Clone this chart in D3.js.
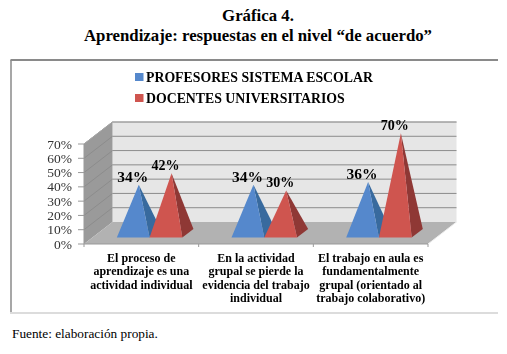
<!DOCTYPE html>
<html>
<head>
<meta charset="utf-8">
<script src="https://cdn.jsdelivr.net/npm/d3@7"></script>
<style>
  html, body { margin: 0; padding: 0; background: #fff; }
  svg { display: block; }
  text { font-family: "Liberation Serif", serif; }
  .title { font-size: 16.8px; font-weight: bold; fill: #000; text-anchor: middle; }
  .legend-label { font-size: 13.8px; font-weight: bold; fill: #000; }
  .tick-label { font-size: 13.5px; fill: #333; text-anchor: end; }
  .cat-label { font-size: 12px; font-weight: bold; fill: #000; text-anchor: middle; }
  .value-label { font-weight: bold; fill: #000; text-anchor: middle; }
</style>
</head>
<body>
<div id="chart"></div>
<script>
var titleLines = ["Gráfica 4.", "Aprendizaje: respuestas en el nivel “de acuerdo”"];
var source = "Fuente: elaboración propia.";

var series = ["PROFESORES SISTEMA ESCOLAR", "DOCENTES UNIVERSITARIOS"];
var categories = [
  ["El proceso de", "aprendizaje es una", "actividad individual"],
  ["En la actividad", "grupal se pierde la", "evidencia del trabajo", "individual"],
  ["El trabajo en aula es", "fundamentalmente", "grupal (orientado al", "trabajo colaborativo)"]
];
var profesores = [34, 34, 36];
var docentes = [42, 30, 70];
var yTicks = [0, 10, 20, 30, 40, 50, 60, 70];

var width = 507, height = 354;
var plot = {left: 84, right: 428, top: 144, bottom: 244};
// how far the back of the 3d box is shifted from the front
var depth = {x: 28.5, y: 22};
// where the pyramids stand on the floor (0 = front, 1 = back)
var baseFront = 0.29, baseBack = 0.68;

var colors = [
  {front: "#5488cc", side: "#376a9e"},
  {front: "#cf5450", side: "#8f3735"}
];
var labelSizes = [15.5, 14];

var svg = d3.select("#chart").append("svg")
  .attr("width", width)
  .attr("height", height);

// the source picture is a soft scan
var soft = svg.append("defs").append("filter").attr("id", "soft");
soft.append("feGaussianBlur").attr("stdDeviation", 0.45);
var root = svg.append("g").attr("filter", "url(#soft)");
root.append("rect").attr("width", width).attr("height", height).attr("fill", "#fff");

var xScale = d3.scaleBand()
  .domain(d3.range(categories.length))
  .range([plot.left, plot.right]);

var inner = d3.scaleBand()
  .domain(d3.range(series.length))
  .range([0, 65.5]);

var yScale = d3.scaleLinear()
  .domain([0, 70])
  .range([plot.bottom, plot.top]);

// x and y in chart units, z is the depth in the box
function project(x, value, z) {
  return [x + z * depth.x, yScale(value) - z * depth.y];
}

function poly(points) {
  return points.map(p => p.join(",")).join(" ");
}

titleLines.forEach(function(t, i) {
  svg.append("text").attr("class", "title")
    .attr("x", 258).attr("y", 21 + i * 19.6)
    .text(t);
});

// frame around the chart
root.append("line").attr("x1", 10.5).attr("x2", 498).attr("y1", 60).attr("y2", 60)
  .attr("stroke", "#8a8a8a").attr("stroke-width", 2);
root.append("line").attr("x1", 11).attr("x2", 11).attr("y1", 60).attr("y2", 313)
  .attr("stroke", "#8a8a8a").attr("stroke-width", 1.5);
root.append("line").attr("x1", 10).attr("x2", 498).attr("y1", 313).attr("y2", 313)
  .attr("stroke", "#dcdcdc").attr("stroke-width", 2);

// legend
series.forEach(function(s, i) {
  var y = 77 + i * 21;
  root.append("rect")
    .attr("x", 135).attr("y", y - 4).attr("width", 8.5).attr("height", 8)
    .attr("fill", colors[i].front);
  root.append("text").attr("class", "legend-label")
    .attr("x", 146).attr("y", y + 4.5)
    .text(s);
});

// box: back wall, side wall, floor
var x0 = plot.left, x1 = plot.right;
root.append("polygon")
  .attr("points", poly([project(x0, 0, 1), project(x1, 0, 1), project(x1, 70, 1), project(x0, 70, 1)]))
  .attr("fill", "#e6e6e6");
root.append("polygon")
  .attr("points", poly([project(x0, 0, 0), project(x0, 0, 1), project(x0, 70, 1), project(x0, 70, 0)]))
  .attr("fill", "#9a9a9a");
root.append("polygon")
  .attr("points", poly([project(x0, 0, 0), project(x1, 0, 0), project(x1, 0, 1), project(x0, 0, 1)]))
  .attr("fill", "#b2b2b2");

// gridlines go along the side wall and then the back wall
root.append("g").selectAll("polyline")
  .data(yTicks.filter(d => d > 0))
  .enter().append("polyline")
  .attr("points", d => poly([project(x0, d, 0), project(x0, d, 1), project(x1, d, 1)]))
  .attr("fill", "none")
  .attr("stroke", "#8c8c8c")
  .attr("stroke-width", 1);
// top edge of the box
root.append("polyline")
  .attr("points", poly([project(x0, 70, 0), project(x0, 70, 1), project(x1, 70, 1)]))
  .attr("fill", "none").attr("stroke", "#a8a8a8");

// axes
var axisColor = "#999";
root.append("line").attr("x1", x0).attr("x2", x1).attr("y1", plot.bottom).attr("y2", plot.bottom)
  .attr("stroke", axisColor);
root.append("line").attr("x1", x0).attr("x2", x0).attr("y1", plot.top).attr("y2", plot.bottom)
  .attr("stroke", axisColor);
root.append("polyline")
  .attr("points", poly([project(x1, 0, 0), project(x1, 0, 1)]))
  .attr("fill", "none").attr("stroke", "#eee");

root.selectAll(".y-tick")
  .data(yTicks)
  .enter().append("line")
  .attr("class", "y-tick")
  .attr("x1", x0 - 6).attr("x2", x0)
  .attr("y1", d => yScale(d)).attr("y2", d => yScale(d))
  .attr("stroke", axisColor);

root.selectAll(".tick-label")
  .data(yTicks)
  .enter().append("text")
  .attr("class", "tick-label")
  .attr("x", x0 - 12)
  .attr("y", d => yScale(d) + 4.5)
  .text(d => d + "%");

root.selectAll(".x-tick")
  .data(d3.range(categories.length + 1))
  .enter().append("line")
  .attr("class", "x-tick")
  .attr("x1", d => x0 + d * xScale.step()).attr("x2", d => x0 + d * xScale.step())
  .attr("y1", plot.bottom).attr("y2", plot.bottom + 3)
  .attr("stroke", axisColor);

// category labels
categories.forEach(function(lines, c) {
  lines.forEach(function(line, i) {
    root.append("text").attr("class", "cat-label")
      .attr("x", xScale(c) + xScale.bandwidth() / 2)
      .attr("y", 261.5 + i * 13.6)
      .text(line);
  });
});

// pyramids, blue first so the red ones sit over them
[profesores, docentes].forEach(function(values, s) {
  values.forEach(function(v, c) {
    var left = xScale(c) + (xScale.bandwidth() - inner.step() * 2) / 2 + inner(s);
    var right = left + inner.bandwidth();
    var a = project(left, 0, baseFront);
    var b = project(right, 0, baseFront);
    var e = project(right, 0, baseBack);
    var apex = project((left + right) / 2, v, (baseFront + baseBack) / 2);

    root.append("polygon")
      .attr("points", poly([b, e, apex]))
      .attr("fill", colors[s].side);
    root.append("polygon")
      .attr("points", poly([a, b, apex]))
      .attr("fill", colors[s].front);

    root.append("text").attr("class", "value-label")
      .attr("x", apex[0] - 6)
      .attr("y", apex[1] - 3)
      .style("font-size", labelSizes[s] + "px")
      .text(v + "%");
  });
});

svg.append("text")
  .attr("x", 12).attr("y", 338)
  .style("font-size", "13.3px").attr("fill", "#000")
  .text(source);
</script>
</body>
</html>
